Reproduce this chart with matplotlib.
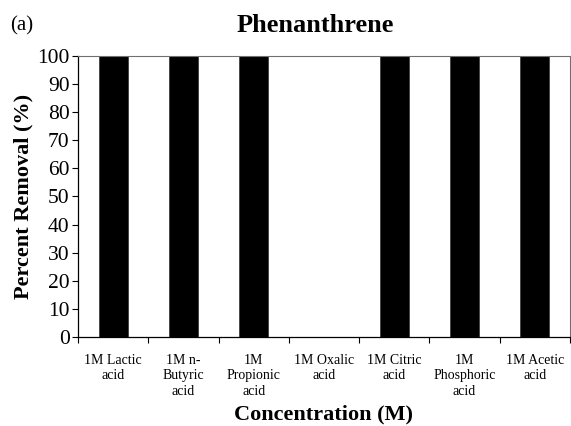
import matplotlib.pyplot as plt
import numpy as np

plt.rcParams['font.family'] = ['Liberation Serif', 'DejaVu Serif']

# 数据
acids = ['1M Lactic\nacid', '1M n-\nButyric\nacid', '1M\nPropionic\nacid', '1M Oxalic\nacid',
         '1M Citric\nacid', '1M\nPhosphoric\nacid', '1M Acetic\nacid']
removal = [100, 100, 100, 0, 100, 100, 100]

fig = plt.figure(figsize=(5.71, 4.26), dpi=100)
ax = fig.add_axes([0.1366, 0.209, 0.8614, 0.6595])

x = np.arange(len(acids))
ax.bar(x, removal, width=0.41, color='black', edgecolor='#404040', linewidth=0.6)

ax.set_xlim(-0.5, len(acids) - 0.5)
ax.set_ylim(0, 100)
ax.set_yticks(range(0, 101, 10))
ax.tick_params(axis='y', labelsize=15.5, length=4, width=0.8, direction='out', pad=2)

# x轴刻度在类别之间，标签放在类别中间
ax.set_xticks(np.arange(-0.5, len(acids), 1.0))
ax.set_xticklabels([])
ax.tick_params(axis='x', which='major', length=4, width=0.8, direction='out')
ax.set_xticks(x, minor=True)
ax.set_xticklabels(acids, minor=True, fontsize=10, linespacing=1.25)
ax.tick_params(axis='x', which='minor', length=0, pad=12)

for s in ['top', 'right']:
    ax.spines[s].set_color('#707070')
    ax.spines[s].set_linewidth(0.8)
for s in ['left', 'bottom']:
    ax.spines[s].set_linewidth(0.9)

ax.set_ylabel('Percent Removal (%)', fontsize=16, fontweight='bold', labelpad=3)
ax.set_xlabel('Concentration (M)', fontsize=16, fontweight='bold', labelpad=5)
fig.text(0.552, 0.94, 'Phenanthrene', fontsize=19, fontweight='bold', ha='center', va='center')
fig.text(0.038, 0.94, '(a)', fontsize=15, ha='center', va='center')

plt.savefig('out.png', dpi=100)
